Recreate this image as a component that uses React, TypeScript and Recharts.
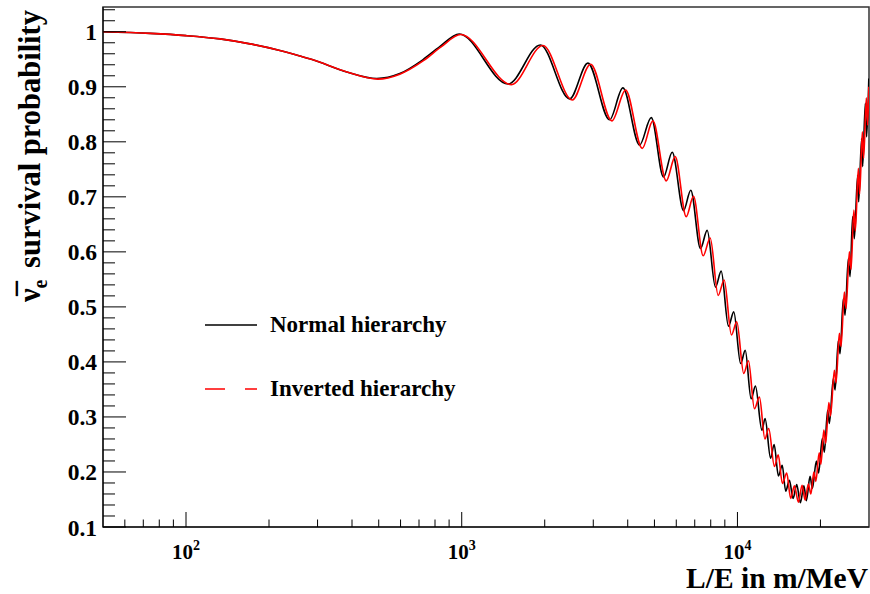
import { LineChart, Line, XAxis, YAxis, ReferenceArea, Legend, Label } from "recharts";

// L/E in m/MeV and survival probability, normal hierarchy
const nhLE = [
  50, 74.1, 100, 132.8, 170.6, 219, 258.8, 288.5, 383.1, 492.1, 596.3, 722.4, 832.4, 979.4,
  1472, 1928, 2462, 2868, 3437, 3842, 4415, 4868, 5394, 5800, 6375, 6771, 7344, 7767, 8324, 8730,
  9277, 9696, 10270, 10672, 11211, 11620, 12266, 12597, 13189, 13584, 14080, 14534, 14962, 15432,
  15917, 16402, 16916, 17417, 17783, 18341, 18696, 19330, 19688, 20322, 20665, 21239, 21544, 22278,
  22597, 23226, 23558, 24216, 24563, 25248, 25609, 26170, 26544, 27285, 27513, 28210, 28447, 29094,
  29411, 29956,
];
const nhP = [
  1.0, 0.997, 0.993, 0.987, 0.978, 0.966, 0.956, 0.949, 0.927, 0.915, 0.924, 0.949, 0.973, 0.996,
  0.905, 0.976, 0.878, 0.943, 0.84, 0.898, 0.794, 0.844, 0.736, 0.781, 0.675, 0.712, 0.606, 0.639,
  0.536, 0.565, 0.465, 0.491, 0.397, 0.421, 0.333, 0.356, 0.276, 0.297, 0.225, 0.25, 0.193, 0.212,
  0.165, 0.185, 0.152, 0.177, 0.144, 0.175, 0.148, 0.192, 0.17, 0.22, 0.198, 0.261, 0.236, 0.312,
  0.288, 0.37, 0.349, 0.439, 0.415, 0.515, 0.485, 0.588, 0.555, 0.664, 0.624, 0.739, 0.691, 0.806,
  0.755, 0.87, 0.809, 0.915,
];

// inverted hierarchy
const ihLE = [
  50, 74.1, 100, 132.8, 170.6, 219, 258.8, 288.5, 383.1, 496.2, 596.3, 728.4, 839.4, 991.7,
  1514, 1970, 2518, 2934, 3504, 3929, 4516, 4934, 5517, 5947, 6520, 6926, 7512, 7964, 8514, 8950,
  9512, 9942, 10540, 10962, 11523, 12013, 12578, 12984, 13618, 14057, 14558, 15088, 15601, 16091,
  16636, 17157, 17591, 18083, 18464, 18931, 19250, 19787, 20071, 20579, 20892, 21455, 21761, 22465,
  22786, 23421, 23755, 24418, 24767, 25460, 25823, 26433, 26766, 27444, 27744, 28375, 28684, 29338,
  29658, 29956,
];
const ihP = [
  1.0, 0.997, 0.993, 0.987, 0.978, 0.966, 0.956, 0.949, 0.927, 0.914, 0.923, 0.948, 0.972, 0.995,
  0.904, 0.975, 0.876, 0.941, 0.838, 0.894, 0.788, 0.838, 0.729, 0.773, 0.664, 0.701, 0.593, 0.625,
  0.521, 0.549, 0.449, 0.473, 0.379, 0.402, 0.315, 0.336, 0.26, 0.279, 0.21, 0.231, 0.179, 0.198,
  0.152, 0.175, 0.145, 0.176, 0.149, 0.178, 0.16, 0.2, 0.183, 0.235, 0.214, 0.276, 0.252, 0.326,
  0.302, 0.385, 0.362, 0.452, 0.428, 0.527, 0.497, 0.6, 0.568, 0.676, 0.638, 0.752, 0.705, 0.818,
  0.77, 0.88, 0.83, 0.9,
];

const xMajor = [100, 1000, 10000];
const xMinor = [
  60, 70, 80, 90, 200, 300, 400, 500, 600, 700, 800, 900,
  2000, 3000, 4000, 5000, 6000, 7000, 8000, 9000, 20000,
];
const yMajor = [0.1, 0.2, 0.3, 0.4, 0.5, 0.6, 0.7, 0.8, 0.9, 1];
const yMinor = [
  0.12, 0.14, 0.16, 0.18, 0.22, 0.24, 0.26, 0.28, 0.32, 0.34, 0.36, 0.38, 0.42, 0.44, 0.46, 0.48,
  0.52, 0.54, 0.56, 0.58, 0.62, 0.64, 0.66, 0.68, 0.72, 0.74, 0.76, 0.78, 0.82, 0.84, 0.86, 0.88,
  0.92, 0.94, 0.96, 0.98, 1.02, 1.04,
];

const FONT = "'Liberation Serif', 'Times New Roman', serif";

const nhData = nhLE.map((le, i) => ({ le, p: nhP[i] }));
const ihData = ihLE.map((le, i) => ({ le, p: ihP[i] }));
const xTicks = [...xMinor, ...xMajor].sort((a, b) => a - b);
const yTicks = [...yMinor, ...yMajor].sort((a, b) => a - b);

// ticks point inwards, ROOT style
const XTick = (props: any) => {
  const { x, y, payload } = props;
  const v = payload.value;
  const major = xMajor.includes(v);
  return (
    <g>
      <line x1={x} x2={x} y1={y} y2={y - (major ? 15 : 7.5)} stroke="#000" strokeWidth={1} />
      {major && (
        <text x={x} y={y + 32} textAnchor="middle" fontFamily={FONT} fontWeight="bold" fontSize={21} fill="#000">
          10
          <tspan dy={-9} fontSize={14}>
            {Math.round(Math.log10(v))}
          </tspan>
        </text>
      )}
    </g>
  );
};

const YTick = (props: any) => {
  const { x, y, payload } = props;
  const v = payload.value;
  const major = yMajor.includes(v);
  return (
    <g>
      <line x1={x} x2={x + (major ? 23 : 12)} y1={y} y2={y} stroke="#000" strokeWidth={1} />
      {major && (
        <text x={x - 6} y={y + 8.5} textAnchor="end" fontFamily={FONT} fontWeight="bold" fontSize={23.5} fill="#000">
          {String(v)}
        </text>
      )}
    </g>
  );
};

const renderLegend = () => (
  <svg width={290} height={110}>
    <line x1={10} x2={62} y1={25} y2={25} stroke="#000" strokeWidth={1.5} />
    <text x={75} y={32} fontFamily={FONT} fontWeight="bold" fontSize={23} fill="#000">
      Normal hierarchy
    </text>
    <line x1={10} x2={62} y1={89} y2={89} stroke="#ff0000" strokeWidth={1.5} strokeDasharray="20 20" />
    <text x={75} y={96} fontFamily={FONT} fontWeight="bold" fontSize={23} fill="#000">
      Inverted hierarchy
    </text>
  </svg>
);

const renderXTitle = () => (
  <text x={868} y={588} textAnchor="end" fontFamily={FONT} fontWeight="bold" fontSize={29.5} fill="#000">
    L/E in m/MeV
  </text>
);

const renderYTitle = () => (
  <text
    transform="translate(40, 10) rotate(-90)"
    textAnchor="end"
    fontFamily={FONT}
    fontWeight="bold"
    fontSize={30.5}
    fill="#000"
  >
    {"\u03bd\u0305"}
    <tspan dy={7} fontSize={20}>
      e
    </tspan>
    <tspan dy={-7} dx={4}>{"\u00a0survival probability"}</tspan>
  </text>
);

export default function App() {
  return (
    <div style={{ position: "absolute", left: 0, top: 0, width: 870, height: 594, background: "#fff" }}>
      <LineChart width={870} height={594} margin={{ top: 7, right: 1, left: 0, bottom: 0 }}>
        <XAxis
          dataKey="le"
          type="number"
          scale="log"
          domain={[50, 30000]}
          allowDataOverflow
          ticks={xTicks}
          interval={0}
          height={67}
          tickSize={0}
          tickMargin={0}
          tick={XTick}
          axisLine={{ stroke: "#000", strokeWidth: 1 }}
        >
          <Label content={renderXTitle} />
        </XAxis>
        <YAxis
          type="number"
          domain={[0.1, 1.045]}
          allowDataOverflow
          ticks={yTicks}
          interval={0}
          width={103}
          tickSize={0}
          tickMargin={0}
          tick={YTick}
          axisLine={{ stroke: "#000", strokeWidth: 1 }}
        >
          <Label content={renderYTitle} />
        </YAxis>
        <ReferenceArea
          x1={50}
          x2={30000}
          y1={0.1}
          y2={1.045}
          fill="none"
          stroke="#333"
          strokeWidth={1.5}
          ifOverflow="visible"
        />
        <Legend
          layout="vertical"
          align="center"
          verticalAlign="middle"
          content={renderLegend}
          wrapperStyle={{ left: 195, top: 300, width: 290 }}
        />
        <Line
          data={nhData}
          dataKey="p"
          type="monotone"
          stroke="#000"
          strokeWidth={1.6}
          dot={false}
          isAnimationActive={false}
          name="Normal hierarchy"
        />
        <Line
          data={ihData}
          dataKey="p"
          type="monotone"
          stroke="#ff0000"
          strokeWidth={1.6}
          dot={false}
          isAnimationActive={false}
          name="Inverted hierarchy"
        />
      </LineChart>
    </div>
  );
}
